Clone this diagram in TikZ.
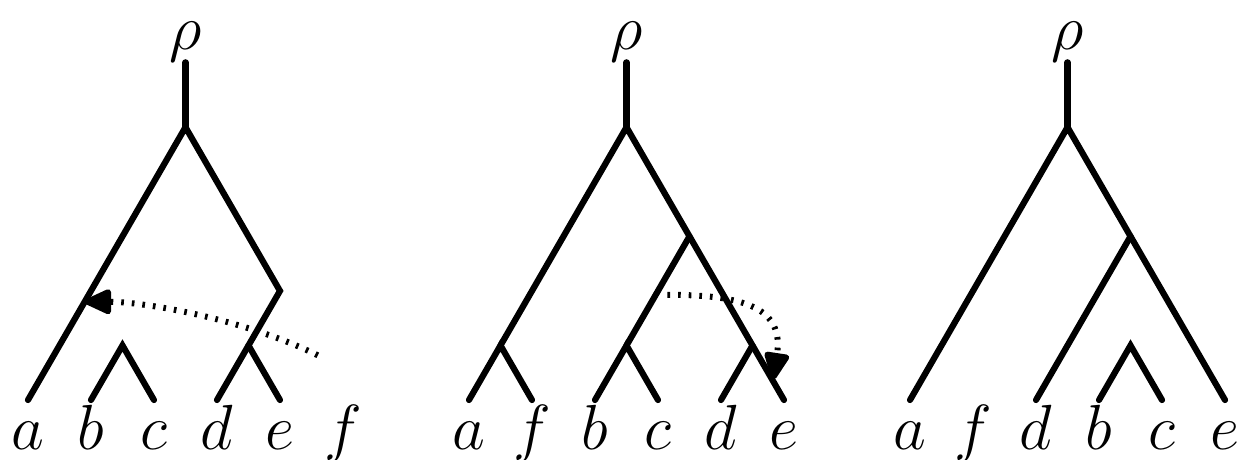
\documentclass[tikz,border=0pt]{standalone}
\usepackage{amsmath,amssymb}
\usetikzlibrary{arrows.meta}
\tikzset{
  edg/.style={line width=1.4pt,line cap=round,line join=miter},
  spr/.style={line width=1.35pt,dash pattern=on 0.6pt off 1.8pt,-{Triangle[length=7pt,width=6pt,round]}},
  lbl/.style={font=\Large,anchor=base,inner sep=0pt},
}
\begin{document}
\begin{tikzpicture}[x=0.5cm,y=0.5cm]
  \useasboundingbox (-0.444,-0.937) rectangle (19.222,6.349);
  % first tree: prune (b,c)
  \begin{scope}
    \coordinate (t1top) at (2.5,5.36);
    \coordinate (t1r) at (2.5,4.33);
    \coordinate (t1u) at (4,1.732);
    \coordinate (t1de) at (3.5,0.866);
    \coordinate (t1bc) at (1.5,0.866);
    \node[lbl] (t1rho) at (2.5,5.57) {$\rho$};
    \foreach \l [count=\i from 0] in {a,b,c,d,e,f} {
      \coordinate (t1\l) at (\i,0);
      \node[lbl] (t1\l lbl) at (\i,-0.79) {$\l$};
    }
    \draw[edg] (t1top)--(t1r);
    \draw[edg] (t1a)--(t1r)--(t1u)--(t1d);
    \draw[edg] (t1de)--(t1e);
    \draw[edg] (t1b)--(t1bc)--(t1c);
    % regraft move
    \coordinate (t1s) at (4.6,0.71);
    \coordinate (t1t) at (0.9,1.56);
    \draw[spr] (t1s) .. controls (3.4,1.3) and (1.8,1.56) .. (t1t);
  \end{scope}
  % second tree
  \begin{scope}[shift={(7,0)}]
    \coordinate (t2top) at (2.5,5.36);
    \coordinate (t2r) at (2.5,4.33);
    \coordinate (t2af) at (0.5,0.866);
    \coordinate (t2v) at (3.5,2.598);
    \coordinate (t2bc) at (2.5,0.866);
    \coordinate (t2de) at (4.5,0.866);
    \node[lbl] (t2rho) at (2.5,5.57) {$\rho$};
    \foreach \l [count=\i from 0] in {a,f,b,c,d,e} {
      \coordinate (t2\l) at (\i,0);
      \node[lbl] (t2\l lbl) at (\i,-0.79) {$\l$};
    }
    \draw[edg] (t2top)--(t2r);
    \draw[edg] (t2af)--(t2r)--(t2v)--(t2e);
    \draw[edg] (t2a)--(t2af)--(t2f);
    \draw[edg] (t2v)--(t2bc);
    \draw[edg] (t2b)--(t2bc)--(t2c);
    \draw[edg] (t2d)--(t2de);
    % regraft move
    \coordinate (t2s) at (3.15,1.67);
    \coordinate (t2t) at (4.83,0.33);
    \draw[spr] (t2s) .. controls (4.4,1.67) and (5.0,1.45) .. (t2t);
  \end{scope}
  % third tree
  \begin{scope}[shift={(14,0)}]
    \coordinate (t3top) at (2.5,5.36);
    \coordinate (t3r) at (2.5,4.33);
    \coordinate (t3w) at (3.5,2.598);
    \coordinate (t3bc) at (3.5,0.866);
    \node[lbl] (t3rho) at (2.5,5.57) {$\rho$};
    \foreach \l [count=\i from 0] in {a,f,d,b,c,e} {
      \coordinate (t3\l) at (\i,0);
      \node[lbl] (t3\l lbl) at (\i,-0.79) {$\l$};
    }
    \draw[edg] (t3top)--(t3r);
    \draw[edg] (t3a)--(t3r)--(t3w)--(t3e);
    \draw[edg] (t3w)--(t3d);
    \draw[edg] (t3b)--(t3bc)--(t3c);
  \end{scope}
\end{tikzpicture}
\end{document}
